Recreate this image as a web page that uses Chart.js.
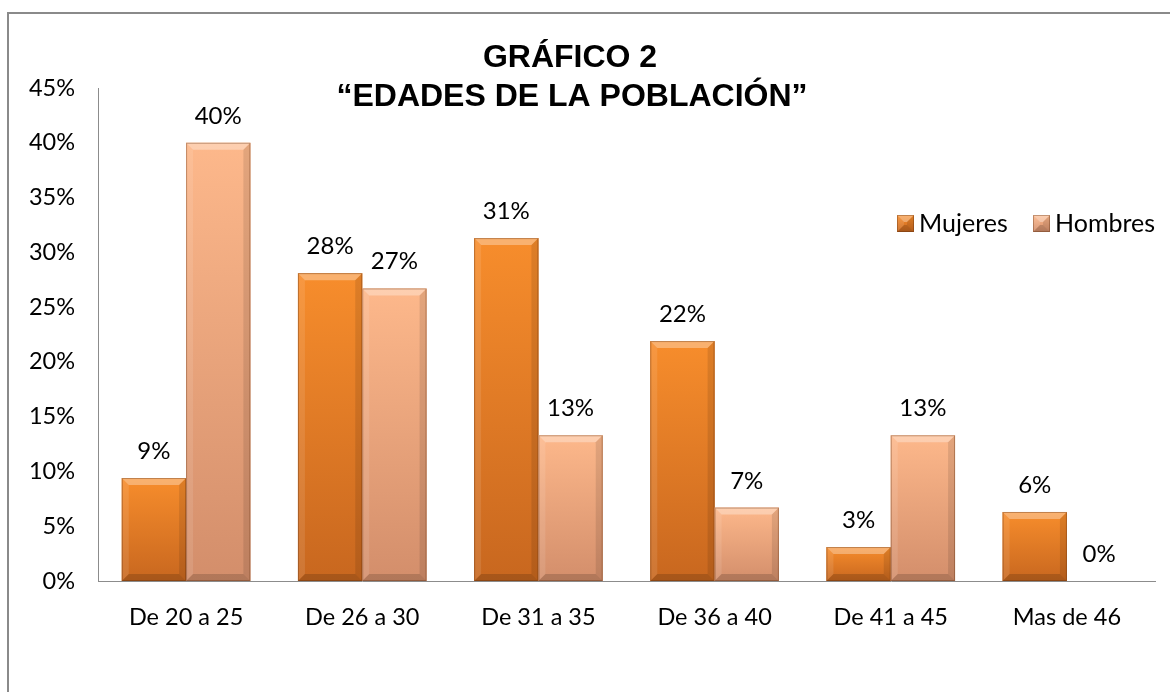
<!DOCTYPE html>
<html>
<head>
<meta charset="utf-8">
<script src="https://cdn.jsdelivr.net/npm/chart.js@4.4.1/dist/chart.umd.min.js"></script>
<style>
  html, body { margin:0; padding:0; background:#fff; }
  #wrap { position:relative; width:1170px; height:692px; overflow:hidden; }
  #frame { position:absolute; left:7px; top:12px; width:1220px; height:740px; border:2px solid #8a8a8a; box-sizing:border-box; }
  canvas { position:absolute; left:0; top:0; }
</style>
</head>
<body>
<div id="wrap">
  <div id="frame"></div>
  <canvas id="chart" width="1170" height="692"></canvas>
</div>
<script>
/* global Chart */

const categories = ['De 20 a 25', 'De 26 a 30', 'De 31 a 35', 'De 36 a 40', 'De 41 a 45', 'Mas de 46'];
const mujeres = [9.4, 28.1, 31.3, 21.9, 3.1, 6.3];
const hombres = [40.0, 26.7, 13.3, 6.7, 13.3, 0];
const seriesNames = ['Mujeres', 'Hombres'];
const titleLines = ['GRÁFICO 2', '“EDADES DE LA POBLACIÓN”'];
const yMax = 45, yStep = 5;

const TXT_FONT = '"Lato", "Noto Sans", sans-serif';
const PAL = {
  Mujeres: { top:'#f78d2c', bot:'#c8671f', flat:'#e57b25' },
  Hombres: { top:'#fdb88b', bot:'#d38e6b', flat:'#f3a87c' },
};

// bevelled fill, drawn over each bar the library placed
function bevelRect(ctx, l, t, r, b, pal) {
  const h = b - t, w = r - l;
  if (h < 1) return;
  const bv = Math.min(7, h / 2, w / 2);
  const g = ctx.createLinearGradient(0, t, 0, b);
  g.addColorStop(0, pal.top); g.addColorStop(1, pal.bot);
  ctx.fillStyle = g; ctx.fillRect(l, t, w, h);
  const poly = (pts, fill) => {
    ctx.beginPath(); ctx.moveTo(pts[0][0], pts[0][1]);
    pts.slice(1).forEach(p => ctx.lineTo(p[0], p[1]));
    ctx.closePath(); ctx.fillStyle = fill; ctx.fill();
  };
  poly([[l,t],[r,t],[r-bv,t+bv],[l+bv,t+bv]], 'rgba(255,255,255,0.32)');
  poly([[l,t],[l+bv,t+bv],[l+bv,b-bv],[l,b]], 'rgba(255,255,255,0.10)');
  poly([[r,t],[r,b],[r-bv,b-bv],[r-bv,t+bv]], 'rgba(0,0,0,0.10)');
  poly([[l,b],[l+bv,b-bv],[r-bv,b-bv],[r,b]], 'rgba(0,0,0,0.16)');
  ctx.strokeStyle = 'rgba(90,40,10,0.35)'; ctx.lineWidth = 1;
  ctx.strokeRect(l + 0.5, t + 0.5, w - 1, h - 1);
}

const bevelBars = {
  id: 'bevelBars',
  afterDatasetsDraw(chart) {
    const ctx = chart.ctx;
    ctx.save();
    chart.data.datasets.forEach((ds, i) => {
      chart.getDatasetMeta(i).data.forEach(bar => {
        const p = bar.getProps(['x', 'y', 'base', 'width'], true);
        bevelRect(ctx, p.x - p.width / 2, p.y, p.x + p.width / 2, p.base, PAL[ds.label]);
      });
    });
    ctx.restore();
  },
};

const valueLabels = {
  id: 'valueLabels',
  afterDatasetsDraw(chart) {
    const ctx = chart.ctx;
    ctx.save();
    ctx.font = '24px ' + TXT_FONT; ctx.fillStyle = '#000'; ctx.textAlign = 'center'; ctx.textBaseline = 'alphabetic';
    chart.data.datasets.forEach((ds, i) => {
      chart.getDatasetMeta(i).data.forEach((bar, j) => {
        ctx.fillText(Math.round(ds.data[j]) + '%', bar.x, bar.y - 19);
      });
    });
    ctx.restore();
  },
};

const titleAndLegend = {
  id: 'titleAndLegend',
  afterDraw(chart) {
    const ctx = chart.ctx;
    ctx.save();
    ctx.fillStyle = '#000'; ctx.textAlign = 'center'; ctx.textBaseline = 'alphabetic';
    ctx.font = 'bold 32px "Liberation Sans", Arial, sans-serif';
    ctx.fillText(titleLines[0], 570, 67);
    ctx.fillText(titleLines[1], 572, 106);
    // legend
    ctx.font = '25px ' + TXT_FONT; ctx.textAlign = 'left'; ctx.textBaseline = 'middle';
    const xs = [897, 1033];
    seriesNames.forEach((n, i) => {
      bevelRect(ctx, xs[i], 215, xs[i] + 17, 232, PAL[n]);
      ctx.fillStyle = '#000';
      ctx.fillText(n, xs[i] + 22, 224);
    });
    ctx.restore();
  },
};

new Chart(document.getElementById('chart'), {
  type: 'bar',
  data: {
    labels: categories,
    datasets: [
      { label: seriesNames[0], data: mujeres, backgroundColor: PAL.Mujeres.flat, borderWidth: 0, categoryPercentage: 0.73, barPercentage: 1.0 },
      { label: seriesNames[1], data: hombres, backgroundColor: PAL.Hombres.flat, borderWidth: 0, categoryPercentage: 0.73, barPercentage: 1.0 },
    ],
  },
  options: {
    responsive: false, animation: false,
    layout: { padding: { left: 0, top: 88, right: 15, bottom: 0 } },
    plugins: { legend: { display: false }, title: { display: false }, tooltip: { enabled: false } },
    scales: {
      x: {
        grid: { display: false, drawTicks: false },
        border: { display: true, color: '#8c8c8c', width: 1 },
        ticks: { color: '#000', font: { size: 23.5, family: TXT_FONT }, padding: 22, maxRotation: 0, autoSkip: false },
        afterFit: s => { s.height = 111; },
      },
      y: {
        min: 0, max: yMax,
        grid: { display: false, drawTicks: false },
        border: { display: true, color: '#8c8c8c', width: 1 },
        ticks: { stepSize: yStep, color: '#000', font: { size: 23.5, family: TXT_FONT }, padding: 23, callback: v => v + '%' },
        afterFit: s => { s.width = 98; },
      },
    },
  },
  plugins: [bevelBars, valueLabels, titleAndLegend],
});
</script>
</body>
</html>
